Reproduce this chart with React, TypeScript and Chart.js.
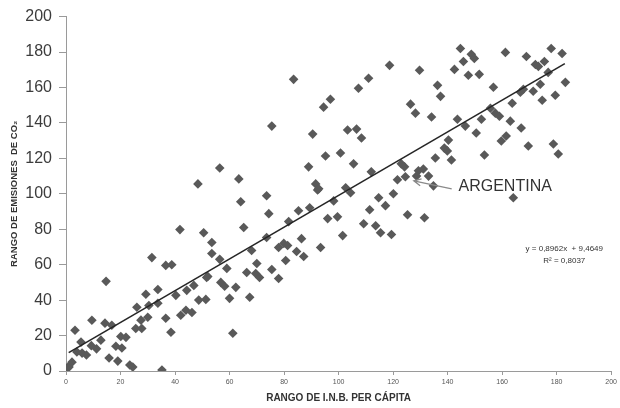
import React, { useEffect, useRef } from 'react';
import { Chart, registerables } from 'chart.js';

Chart.register(...registerables);

// Rango de I.N.B. per cápita (x) — one entry per country
const GNI_RANK: number[] = [
  0.5, 1.1, 2.2, 3.3, 5.5, 4, 5.9, 7.5, 9.5, 9.3,
  11.2, 12.8, 14.3, 14.7, 16.8, 15.8, 18.3, 20.1, 22, 20.5,
  19, 23.4, 24.5, 26, 27.5, 25.6, 27.8, 29.3, 30, 30.4,
  31.5, 33.7, 33.7, 36.6, 38.5, 36.6, 38.8, 35.2, 40.3, 41.8,
  42.1, 44, 44.3, 46.2, 46.9, 48.7, 51.3, 50.5, 51.6, 48.4,
  56.4, 63.4, 64.1, 73.6, 74.4, 65.2, 53.5, 73.6, 68.1, 78,
  79.9, 81.3, 86.4, 84.6, 87.2, 93.4, 53.5, 56.4, 59, 70,
  75.5, 80.6, 66.3, 69.6, 71, 78, 52, 56.8, 58.2, 62.3,
  60, 67.4, 61.2, 81.7, 85.3, 89.4, 96, 89, 91.6, 92.3,
  83.5, 75.5, 90.5, 94.5, 97, 95.2, 100.7, 103.3, 106.6, 108.4,
  105.5, 107.3, 111, 118.7, 129.7, 112, 102.6, 104.4, 92.7, 98.2,
  114.7, 120.1, 117.2, 111.4, 125.3, 131.5, 99.6, 101.5, 109.2, 113.6,
  115.4, 119.4, 123, 124.2, 121.6, 124.5, 129.3, 131.1, 133, 128.6,
  134.8, 135.5, 141.4, 140.3, 138.8, 139.9, 134.1, 126.4, 128.2, 137.4,
  136.3, 143.6, 146.5, 152.4, 150.5, 153.5, 144.7, 148.7, 149.8, 145.8,
  142.5, 147.6, 151.6, 161.2, 168.9, 172.2, 173.3, 175.5, 178, 182,
  176.9, 183.2, 156.8, 174, 179.5, 174.7, 166.7, 167.8, 171.4, 163.7,
  155.7, 157.5, 159, 163, 167, 159.7, 161.5, 169.6, 178.8, 180.6,
  164.1,
];

// Rango de emisiones de CO2 (y) — same order as GNI_RANK
const CO2_RANK: number[] = [
  2, 2.2, 5, 23, 16.3, 10.7, 10.1, 9, 28.6, 14.3,
  12.5, 17.4, 27, 50.6, 25.8, 7.3, 14, 19.5, 19, 13,
  5.6, 3.4, 2.2, 36, 28.7, 24, 24, 43.3, 30.3, 37,
  64, 46, 38.2, 29.8, 21.9, 59.6, 60, 0.6, 42.7, 79.8,
  31.5, 34.3, 45.5, 33, 48.3, 40, 40.4, 78, 52.8, 105.6,
  114.6, 108.4, 95.5, 98.9, 88.8, 81, 72.5, 75.3, 68, 69.7,
  72, 70.8, 74.7, 67.4, 64.6, 69.7, 66.3, 63, 57.9, 60.7,
  57.3, 62.4, 55.6, 55, 52.8, 52.2, 53.4, 50, 47.8, 47.2,
  41, 41.6, 21.3, 84.3, 90.4, 92.1, 86, 115.2, 105.6, 102.2,
  164.6, 138.2, 133.7, 148.9, 153.4, 121.3, 123, 136, 136.5, 131.5,
  116.9, 159.6, 165.2, 172.5, 169.7, 112.4, 103.4, 100.6, 102.8, 96,
  97.8, 100, 93.3, 91, 88.2, 86.5, 87, 76.4, 83.1, 82,
  78, 77, 116.9, 115.2, 107.9, 109.6, 113, 114, 110, 110,
  104.5, 120.2, 119.1, 130.3, 125.8, 124.2, 143.3, 150.6, 145.5, 155,
  161.2, 142.1, 138.2, 142.1, 134.3, 121.9, 182, 178.7, 176.4, 174.7,
  170.2, 166.9, 167.4, 179.8, 177.5, 173, 171.9, 174.7, 182, 179.2,
  168.5, 162.9, 160.1, 161.8, 155.6, 152.8, 157.3, 159, 157.9, 151.1,
  148.3, 145.5, 143.8, 141, 137.1, 129.8, 132.6, 127, 128.1, 122.5,
  97.8,
];

// Linear trend line as printed on the chart
const TREND_SLOPE = 0.8962;
const TREND_INTERCEPT = 9.4649;
const TREND_X_RANGE: number[] = [1, 183];
const EQUATION_LINES: string[] = ['y = 0,8962x  + 9,4649', 'R² = 0,8037'];

const X_TITLE = 'RANGO DE I.N.B. PER CÁPITA';
const Y_TITLE = 'RANGO DE EMISIONES  DE CO₂';
const HIGHLIGHT_LABEL = 'ARGENTINA';

// Annotation anchors, in data units
const LABEL_AT = { x: 144, y: 104 };
const ARROW_FROM = { x: 141.5, y: 102.8 };
const ARROW_TO = { x: 127.6, y: 107.3 };
const EQUATION_AT = { x: 182.8, y: 69 };

const FONT = "'Liberation Sans', Arial, sans-serif";

export default function App() {
  const canvasRef = useRef<HTMLCanvasElement>(null);

  useEffect(() => {
    document.body.style.margin = '0';
    const canvas = canvasRef.current;
    if (!canvas) return;

    const points = GNI_RANK.map((x, i) => ({ x, y: CO2_RANK[i] }));
    const trend = TREND_X_RANGE.map((x) => ({ x, y: TREND_SLOPE * x + TREND_INTERCEPT }));

    const annotations = {
      id: 'annotations',
      afterDatasetsDraw(chart: any) {
        const { ctx, scales } = chart;
        const sx = scales.x;
        const sy = scales.y;
        ctx.save();
        // arrow
        const x1 = sx.getPixelForValue(ARROW_FROM.x);
        const y1 = sy.getPixelForValue(ARROW_FROM.y);
        const x2 = sx.getPixelForValue(ARROW_TO.x);
        const y2 = sy.getPixelForValue(ARROW_TO.y);
        ctx.strokeStyle = '#8a8a8a';
        ctx.lineWidth = 1.3;
        ctx.beginPath();
        ctx.moveTo(x1, y1);
        ctx.lineTo(x2, y2);
        const ang = Math.atan2(y1 - y2, x1 - x2);
        const head = 8;
        ctx.moveTo(x2 + head * Math.cos(ang - 0.45), y2 + head * Math.sin(ang - 0.45));
        ctx.lineTo(x2, y2);
        ctx.lineTo(x2 + head * Math.cos(ang + 0.45), y2 + head * Math.sin(ang + 0.45));
        ctx.stroke();

        // label
        ctx.fillStyle = '#333';
        ctx.font = `16px ${FONT}`;
        ctx.textAlign = 'left';
        ctx.textBaseline = 'middle';
        ctx.fillText(HIGHLIGHT_LABEL, sx.getPixelForValue(LABEL_AT.x), sy.getPixelForValue(LABEL_AT.y));

        // equation
        ctx.font = `8px ${FONT}`;
        ctx.textAlign = 'center';
        ctx.fillStyle = '#333';
        const ex = sx.getPixelForValue(EQUATION_AT.x);
        const ey = sy.getPixelForValue(EQUATION_AT.y);
        EQUATION_LINES.forEach((line, i) => {
          ctx.fillText(line, ex, ey + i * 12.5);
        });
        ctx.restore();
      },
    };

    const chart = new Chart(canvas, {
      type: 'scatter',
      data: {
        datasets: [
          {
            data: trend,
            showLine: true,
            borderColor: '#262626',
            borderWidth: 1.6,
            pointRadius: 0,
            fill: false,
          } as any,
          {
            data: points,
            pointStyle: 'rectRot',
            pointRadius: 4.8,
            backgroundColor: '#595959',
            borderColor: '#595959',
            borderWidth: 0,
          },
        ],
      },
      options: {
        animation: false,
        responsive: true,
        maintainAspectRatio: false,
        layout: { padding: { top: 15, right: 7, left: 0, bottom: 0 } },
        plugins: { legend: { display: false }, tooltip: { enabled: false } },
        scales: {
          x: {
            type: 'linear',
            min: 0,
            max: 200,
            afterFit(scale: any) {
              scale.height = 37;
            },
            ticks: {
              stepSize: 20,
              maxRotation: 0,
              autoSkip: false,
              padding: 3,
              color: '#555',
              font: { size: 7, family: FONT },
            },
            grid: { drawOnChartArea: false, drawTicks: true, tickLength: 4, color: '#9a9a9a' },
            border: { display: true, color: '#9a9a9a', width: 1 },
            title: {
              display: true,
              text: X_TITLE,
              color: '#333',
              font: { size: 10, weight: 'bold', family: FONT },
              padding: { top: 0, bottom: 4 },
            },
          },
          y: {
            type: 'linear',
            min: 0,
            max: 200,
            afterFit(scale: any) {
              scale.width = 66;
            },
            ticks: {
              stepSize: 20,
              padding: 7,
              color: '#3c3c3c',
              font: { size: 16, family: FONT },
            },
            grid: { drawOnChartArea: false, drawTicks: true, tickLength: 7, color: '#9a9a9a' },
            border: { display: true, color: '#9a9a9a', width: 1 },
            title: {
              display: true,
              text: Y_TITLE,
              color: '#333',
              font: { size: 9.5, weight: 'bold', family: FONT },
              padding: { top: 9, bottom: 0 },
            },
          },
        },
      } as any,
      plugins: [annotations],
    });

    return () => chart.destroy();
  }, []);

  return (
    <div style={{ width: 620, height: 408, position: 'relative' }}>
      <canvas ref={canvasRef} />
    </div>
  );
}
